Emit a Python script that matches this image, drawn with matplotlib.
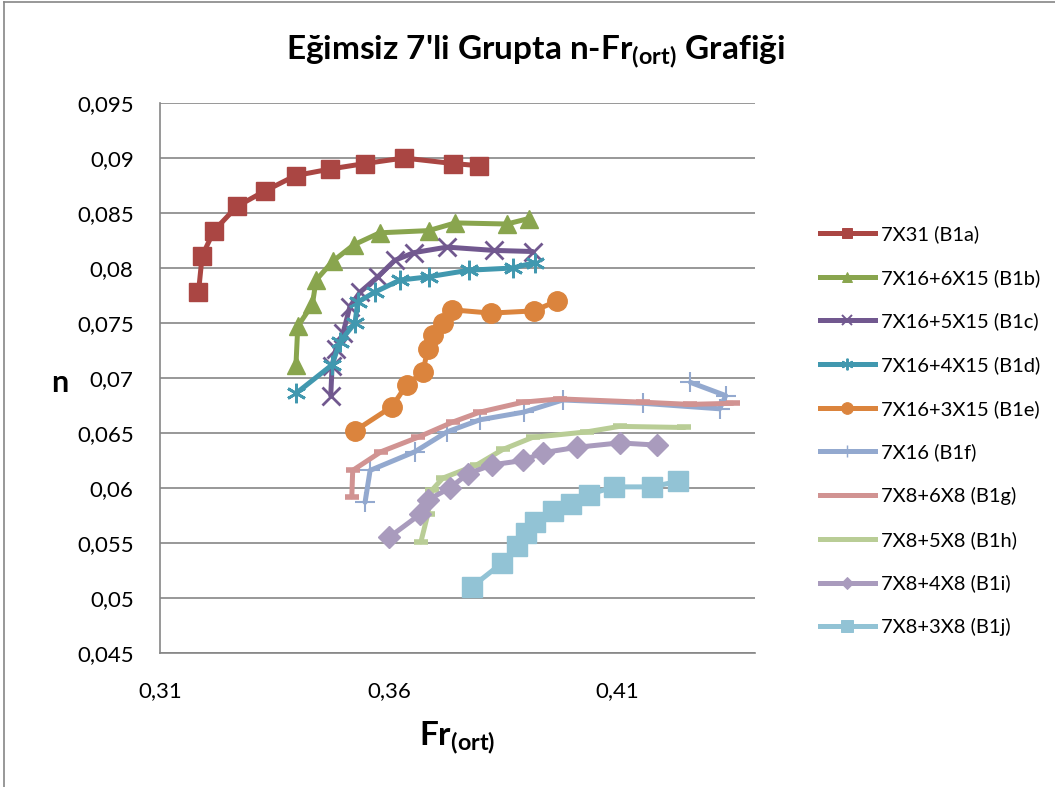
import matplotlib
matplotlib.use('Agg')
import matplotlib.pyplot as plt
from matplotlib.ticker import FuncFormatter, MultipleLocator
from matplotlib.lines import Line2D

plt.rcParams['font.family'] = ['Lato', 'DejaVu Sans']
plt.rcParams['mathtext.fontset'] = 'custom'
plt.rcParams['mathtext.rm'] = 'Lato'
plt.rcParams['mathtext.bf'] = 'Lato:bold'
plt.rcParams['mathtext.default'] = 'bf'

# data (Fr_ort, n)
b1a_x = [0.3184, 0.3192, 0.3218, 0.3268, 0.3329, 0.3396, 0.3472, 0.3548, 0.3633, 0.3740, 0.3797]
b1a_y = [0.0778, 0.0811, 0.0834, 0.0856, 0.0870, 0.0884, 0.0890, 0.0895, 0.0900, 0.0895, 0.0893]

b1b_x = [0.3397, 0.3401, 0.3433, 0.3441, 0.3477, 0.3523, 0.3580, 0.3687, 0.3745, 0.3858, 0.3906]
b1b_y = [0.0712, 0.0747, 0.0767, 0.0789, 0.0806, 0.0821, 0.0832, 0.0834, 0.0841, 0.0840, 0.0845]

b1c_x = [0.3473, 0.3476, 0.3484, 0.3500, 0.3515, 0.3537, 0.3576, 0.3613, 0.3655, 0.3727, 0.3829, 0.3914]
b1c_y = [0.0684, 0.0711, 0.0726, 0.0741, 0.0765, 0.0778, 0.0792, 0.0807, 0.0814, 0.0819, 0.0816, 0.0815]

b1d_x = [0.3397, 0.3476, 0.3493, 0.3526, 0.3532, 0.3569, 0.3624, 0.3687, 0.3775, 0.3871, 0.3919]
b1d_y = [0.0686, 0.0712, 0.0733, 0.0750, 0.0769, 0.0778, 0.0789, 0.0792, 0.0798, 0.0800, 0.0805]

b1e_x = [0.3526, 0.3607, 0.3639, 0.3674, 0.3685, 0.3696, 0.3718, 0.3738, 0.3823, 0.3917, 0.3967]
b1e_y = [0.0652, 0.0674, 0.0694, 0.0705, 0.0726, 0.0739, 0.0750, 0.0762, 0.0759, 0.0761, 0.0770]

b1f_x = [0.3548, 0.3559, 0.3657, 0.3727, 0.3799, 0.3895, 0.3980, 0.4155, 0.4323, 0.4336, 0.4259]
b1f_y = [0.0587, 0.0616, 0.0633, 0.0651, 0.0662, 0.0669, 0.0680, 0.0677, 0.0672, 0.0684, 0.0696]

b1g_x = [0.3519, 0.3521, 0.3583, 0.3663, 0.3740, 0.3799, 0.3893, 0.3973, 0.4155, 0.4257, 0.4351]
b1g_y = [0.0592, 0.0616, 0.0633, 0.0646, 0.0660, 0.0669, 0.0678, 0.0681, 0.0678, 0.0676, 0.0677]

b1h_x = [0.3670, 0.3685, 0.3694, 0.3718, 0.3792, 0.3849, 0.3914, 0.4032, 0.4104, 0.4246]
b1h_y = [0.0551, 0.0576, 0.0598, 0.0609, 0.0621, 0.0635, 0.0646, 0.0651, 0.0656, 0.0655]

b1i_x = [0.3600, 0.3668, 0.3685, 0.3733, 0.3773, 0.3825, 0.3893, 0.3936, 0.4011, 0.4104, 0.4185]
b1i_y = [0.0555, 0.0576, 0.0589, 0.0600, 0.0613, 0.0621, 0.0625, 0.0632, 0.0637, 0.0641, 0.0639]

b1j_x = [0.3781, 0.3848, 0.3879, 0.3899, 0.3919, 0.3959, 0.3999, 0.4037, 0.4091, 0.4174, 0.4232]
b1j_y = [0.0510, 0.0532, 0.0547, 0.0559, 0.0569, 0.0579, 0.0585, 0.0594, 0.0601, 0.0601, 0.0606]

labels = ['7X31 (B1a)', '7X16+6X15 (B1b)', '7X16+5X15 (B1c)', '7X16+4X15 (B1d)',
          '7X16+3X15 (B1e)', '7X16 (B1f)', '7X8+6X8 (B1g)', '7X8+5X8 (B1h)',
          '7X8+4X8 (B1i)', '7X8+3X8 (B1j)']
colors = ['#AA4643', '#89A54E', '#71588F', '#4198AF', '#DB843D',
          '#93A9CF', '#D19392', '#B9CD96', '#A99BBD', '#92C3D5']

series = [(b1a_x, b1a_y), (b1b_x, b1b_y), (b1c_x, b1c_y), (b1d_x, b1d_y), (b1e_x, b1e_y),
          (b1f_x, b1f_y), (b1g_x, b1g_y), (b1h_x, b1h_y), (b1i_x, b1i_y), (b1j_x, b1j_y)]

# marker, size, edge width
markers = [('s', 13, 1), ('^', 13, 1), ('x', 13, 2), ((6, 2, 0), 14, 2), ('o', 14, 1),
           ('+', 14, 1.5), ('_', 10, 4), ('_', 10, 4), ('D', 11, 1), ('s', 14, 1)]

fig = plt.figure(figsize=(10.55, 7.87), dpi=100)
ax = fig.add_axes([0.1517, 0.1703, 0.5639, 0.6988])

for (x, y), lab, c, (m, ms, mew) in zip(series, labels, colors, markers):
    ax.plot(x, y, color=c, lw=3.6, marker=m, markersize=ms, markeredgewidth=mew,
            markerfacecolor=c, markeredgecolor=c, label=lab, solid_joinstyle='round',
            solid_capstyle='round')

ax.set_xlim(0.31, 0.44)
ax.set_ylim(0.045, 0.095)
ax.set_xticks([0.31, 0.36, 0.41])
ax.yaxis.set_major_locator(MultipleLocator(0.005))
fmt = FuncFormatter(lambda v, p: ('%g' % round(v, 4)).replace('.', ','))
ax.xaxis.set_major_formatter(fmt)
ax.yaxis.set_major_formatter(fmt)
ax.tick_params(axis='both', length=0, labelsize=16)
ax.tick_params(axis='y', pad=19)
ax.tick_params(axis='x', pad=20)
ax.grid(axis='y', color='#868686', lw=1.2)
ax.set_axisbelow(True)
for s in ['top', 'right']:
    ax.spines[s].set_visible(False)
for s in ['left', 'bottom']:
    ax.spines[s].set_color('#868686')
    ax.spines[s].set_linewidth(1.2)

fig.text(0.508, 0.934, "Eğimsiz 7'li Grupta n-Fr$_{(ort)}$ Grafiği", ha='center', va='center',
         fontsize=24, fontweight='bold')
fig.text(0.057, 0.513, 'n', ha='center', va='center', fontsize=22, fontweight='bold')
fig.text(0.433, 0.063, 'Fr$_{(ort)}$', ha='center', va='center', fontsize=24, fontweight='bold')

handles = [Line2D([], [], color=c, lw=3.6, marker=m, markersize=ms * 0.6,
                  markeredgewidth=mew * 0.7, markerfacecolor=c, markeredgecolor=c)
           if m not in ('_',) else Line2D([], [], color=c, lw=3.6)
           for c, (m, ms, mew) in zip(colors, markers)]
fig.legend(handles, labels, loc='upper left', bbox_to_anchor=(0.777, 0.714), frameon=False,
           fontsize=14.5, labelspacing=1.28, handlelength=2.73, handletextpad=0.3,
           borderpad=0, borderaxespad=0)

# chart area border (left and top edges visible in the original)
fig.add_artist(Line2D([0.004, 0.004], [0.0, 0.997], color='#868686', lw=1.2))
fig.add_artist(Line2D([0.004, 1.0], [0.997, 0.997], color='#868686', lw=1.2))

fig.savefig('out.png', dpi=100)
